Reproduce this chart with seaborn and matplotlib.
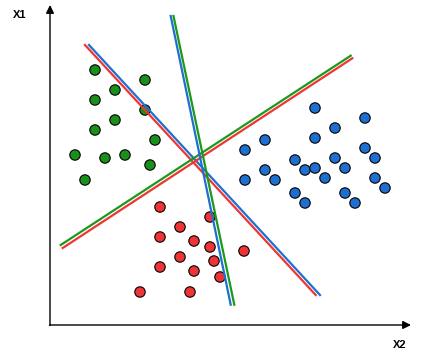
import matplotlib
matplotlib.use("Agg")
import matplotlib.pyplot as plt
import seaborn as sns
import pandas as pd

# Cluster points (origin at the axes corner)
green_x = [45, 95, 65, 45, 95, 65, 45, 105, 25, 55, 75, 100, 35]
green_y = [255, 245, 235, 225, 215, 205, 195, 185, 170, 167, 170, 160, 145]

blue_x = [265, 315, 285, 215, 265, 195, 315, 325, 245, 285, 255, 265, 295, 215, 225,
          195, 275, 325, 335, 245, 295, 255, 305]
blue_y = [217, 207, 197, 185, 187, 175, 177, 167, 165, 167, 155, 157, 157, 155, 145,
          145, 147, 147, 137, 132, 132, 122, 122]

red_x = [110, 160, 130, 110, 144, 160, 194, 130, 164, 110, 144, 170, 90, 140]
red_y = [118, 108, 98, 88, 84, 78, 74, 68, 64, 58, 54, 48, 33, 33]

# Separating lines: endpoints (x, y)
line_names = ["redA", "blueA", "greenB", "redB", "blueC", "greenC"]
line_x = [[35, 265.7], [39, 270], [10.7, 300.7], [12.7, 302.3], [120.7, 180.7], [123.5, 184.3]]
line_y = [[280, 30], [280, 30], [80, 269.3], [77, 266.7], [309, 20.3], [309, 20.3]]

axis_labels = ["X1", "X2"]

GREEN = "#1b8f1b"
BLUE = "#1f6fd0"
RED = "#ee3434"
LINE_COLORS = {"redA": RED, "blueA": BLUE, "greenB": "#1a991a", "redB": RED,
               "blueC": BLUE, "greenC": "#1a991a"}

pts = pd.DataFrame({
    "x": green_x + blue_x + red_x,
    "y": green_y + blue_y + red_y,
    "cls": ["g"] * len(green_x) + ["b"] * len(blue_x) + ["r"] * len(red_x),
})

fig = plt.figure(figsize=(4.21, 3.54), dpi=100)
ax = fig.add_axes([0, 0, 1, 1])
sns.scatterplot(data=pts, x="x", y="y", hue="cls",
                palette={"g": GREEN, "b": BLUE, "r": RED},
                s=56, edgecolor="black", linewidth=0.8, legend=False, ax=ax, zorder=2)

for name, lx, ly in zip(line_names, line_x, line_y):
    sns.lineplot(x=lx, y=ly, color=LINE_COLORS[name], lw=1.6, ax=ax, zorder=3,
                 sort=False)

ax.set_xlim(-50, 371)
ax.set_ylim(-29, 325)
ax.axis("off")

ax.annotate("", xy=(0, 320), xytext=(0, -0.5),
            arrowprops=dict(arrowstyle="-|>", color="black", lw=1, mutation_scale=12,
                            shrinkA=0, shrinkB=0))
ax.annotate("", xy=(361, 0), xytext=(-0.5, 0),
            arrowprops=dict(arrowstyle="-|>", color="black", lw=1, mutation_scale=12,
                            shrinkA=0, shrinkB=0))

ax.text(-30, 310, axis_labels[0], fontsize=8, fontweight="bold",
        family=["Liberation Sans", "DejaVu Sans"], ha="center", va="center")
ax.text(350, -20, axis_labels[1], fontsize=8, fontweight="bold",
        family=["Liberation Sans", "DejaVu Sans"], ha="center", va="center")

fig.savefig("out.png", dpi=100)
